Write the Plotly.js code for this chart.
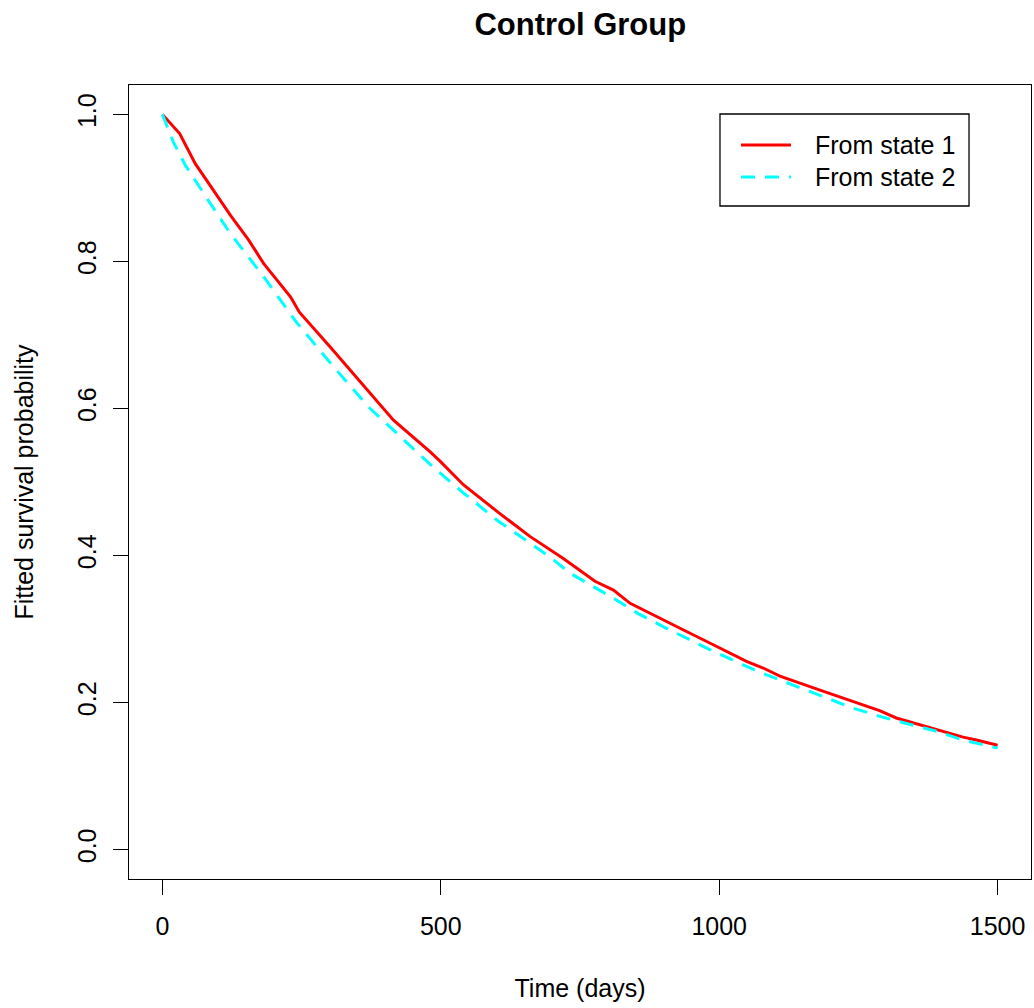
<!DOCTYPE html>
<html>
<head>
<meta charset="utf-8">
<script src="https://cdn.plot.ly/plotly-3.0.1.min.js"></script>
<style>html,body{margin:0;padding:0;background:#fff;}#chart{width:1034px;height:1008px;}</style>
</head>
<body>
<div id="chart"></div>
<script>
const timeState1 = [0, 31, 59, 92, 122, 155, 182, 230, 246, 301, 373, 415, 481, 499, 541, 601, 660, 720, 777, 810, 840, 876, 935, 983, 1049, 1079, 1109, 1181, 1235, 1288, 1318, 1372, 1438, 1462, 1500];
const survState1 = [1.0, 0.974, 0.933, 0.897, 0.863, 0.829, 0.797, 0.752, 0.731, 0.684, 0.620, 0.584, 0.541, 0.528, 0.496, 0.460, 0.426, 0.396, 0.365, 0.353, 0.335, 0.321, 0.299, 0.281, 0.256, 0.247, 0.236, 0.217, 0.203, 0.189, 0.179, 0.167, 0.153, 0.149, 0.142];
const timeState2 = [0, 20, 41, 68, 92, 122, 152, 182, 240, 307, 373, 427, 488, 541, 601, 660, 696, 732, 810, 852, 900, 983, 1025, 1070, 1115, 1240, 1294, 1342, 1390, 1438, 1492, 1500];
const survState2 = [1.0, 0.962, 0.931, 0.899, 0.872, 0.838, 0.808, 0.779, 0.718, 0.657, 0.600, 0.562, 0.519, 0.485, 0.448, 0.417, 0.398, 0.376, 0.342, 0.322, 0.303, 0.272, 0.257, 0.242, 0.229, 0.1925, 0.180, 0.170, 0.161, 0.149, 0.140, 0.138];
const xTicks = [0, 500, 1000, 1500];
const yTicks = [0.0, 0.2, 0.4, 0.6, 0.8, 1.0];
const seriesNames = ["From state 1", "From state 2"];
const seriesColors = ["#FF0000", "#00FFFF"];
const seriesDash = ["solid", "14px,10px"];

const FONT = "Liberation Sans, Arial, sans-serif";
const traces = [
  {x: timeState1, y: survState1, type: "scatter", mode: "lines", name: seriesNames[0],
   line: {color: seriesColors[0], width: 3, dash: seriesDash[0]}},
  {x: timeState2, y: survState2, type: "scatter", mode: "lines", name: seriesNames[1],
   line: {color: seriesColors[1], width: 3, dash: seriesDash[1]}}
];

// Legend box drawn in paper coordinates (R-style legend)
const legBox = {x0: 0.6552, x1: 0.9313, y0: 0.8476, y1: 0.9635};
const legLine = {x0: 0.6785, x1: 0.7339};
const legRowsY = [0.9244, 0.8841];
const legTextX = 0.7583;
const shapes = [
  {type: "rect", xref: "paper", yref: "paper", x0: legBox.x0, x1: legBox.x1, y0: legBox.y0, y1: legBox.y1,
   line: {color: "#000", width: 1.3}, fillcolor: "#fff", layer: "above"}
];
const annotations = [];
seriesNames.forEach((nm, i) => {
  shapes.push({type: "line", xref: "paper", yref: "paper", x0: legLine.x0, x1: legLine.x1,
               y0: legRowsY[i], y1: legRowsY[i], line: {color: seriesColors[i], width: 3, dash: seriesDash[i]}, layer: "above"});
  annotations.push({text: nm, xref: "paper", yref: "paper", x: legTextX, y: legRowsY[i],
                    xanchor: "left", yanchor: "middle", showarrow: false,
                    font: {family: FONT, size: 25, color: "#000"}});
});

const layout = {
  width: 1034, height: 1008,
  paper_bgcolor: "#fff", plot_bgcolor: "#fff",
  margin: {l: 129, r: 3, t: 85, b: 129},
  font: {family: FONT, size: 25, color: "#000"},
  title: {text: "<b>Control Group</b>", font: {family: FONT, size: 31, color: "#000"},
          x: 0.5612, xanchor: "center", y: 0.976, yanchor: "middle"},
  xaxis: {range: [-60, 1560], tickvals: xTicks, ticktext: xTicks.map(String),
          showgrid: false, zeroline: false, showline: true, mirror: true, linecolor: "#000", linewidth: 1.3,
          ticks: "outside", ticklen: 15, tickwidth: 1.3, tickcolor: "#000", ticklabelstandoff: 10,
          tickfont: {family: FONT, size: 25},
          title: {text: "Time (days)", font: {family: FONT, size: 25}, standoff: 40}},
  yaxis: {range: [-0.04, 1.04], tickvals: yTicks, ticktext: yTicks.map(v => v.toFixed(1)),
          showgrid: false, zeroline: false, showline: true, mirror: true, linecolor: "#000", linewidth: 1.3,
          ticks: "outside", ticklen: 15, tickwidth: 1.3, tickcolor: "#000", tickangle: -90, ticklabelstandoff: 7,
          tickfont: {family: FONT, size: 25},
          title: {text: "Fitted survival probability", font: {family: FONT, size: 25}, standoff: 32}},
  showlegend: false,
  shapes: shapes,
  annotations: annotations
};
Plotly.newPlot("chart", traces, layout, {displayModeBar: false, staticPlot: true});
</script>
</body>
</html>
